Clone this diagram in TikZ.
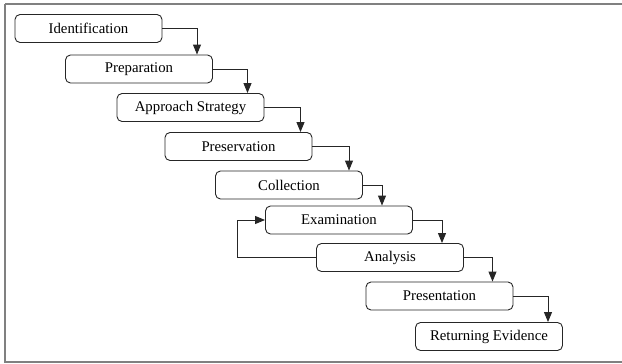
\documentclass[tikz,border=0pt]{standalone}
\usepackage{fontspec}
\setmainfont{Liberation Serif}
\usetikzlibrary{arrows.meta}
\begin{document}
\begin{tikzpicture}[x=1pt,y=-1pt,
  stage/.style={draw=black!85, line width=0.9pt, rounded corners=5pt, minimum width=147pt, minimum height=28pt, inner sep=0pt, font=\fontsize{14.8}{16}\selectfont, text=black},
  arr/.style={draw=black!85, line width=0.9pt, -{Triangle[length=10pt,width=8pt]}}]
\useasboundingbox (0,0) rectangle (622,364);
\draw[black!50, line width=1.5pt] (5,4) -- (630,4) (5,4) -- (5,362) -- (630,362);
\node[stage] (ident) at (88.5,28.5) {Identification};
\node[stage] (prep) at (139,69) {Preparation};
\node[stage] (appr) at (190.5,107.5) {Approach Strategy};
\node[stage] (pres) at (238.5,146.5) {Preservation};
\node[stage] (coll) at (289,185) {Collection};
\node[stage] (exam) at (339,220) {Examination};
\node[stage] (anal) at (390,257.5) {Analysis};
\node[stage] (prst) at (439.5,296) {Presentation};
\node[stage] (ret) at (489,336.5) {Returning Evidence};
\draw[arr] (ident.east) -| ([xshift=58pt]prep.north);
\draw[arr] (prep.east) -| ([xshift=57pt]appr.north);
\draw[arr] (appr.east) -| ([xshift=62pt]pres.north);
\draw[arr] (pres.east) -| ([xshift=60pt]coll.north);
\draw[arr] (coll.east) -| ([xshift=43pt]exam.north);
\draw[arr] (exam.east) -| ([xshift=52pt]anal.north);
\draw[arr] (anal.east) -| ([xshift=53pt]prst.north);
\draw[arr] (prst.east) -| ([xshift=59pt]ret.north);
\coordinate (fb) at ([xshift=-79pt]anal.west);
\draw[arr] (anal.west) -- (fb) |- (exam.west);
\end{tikzpicture}
\end{document}
